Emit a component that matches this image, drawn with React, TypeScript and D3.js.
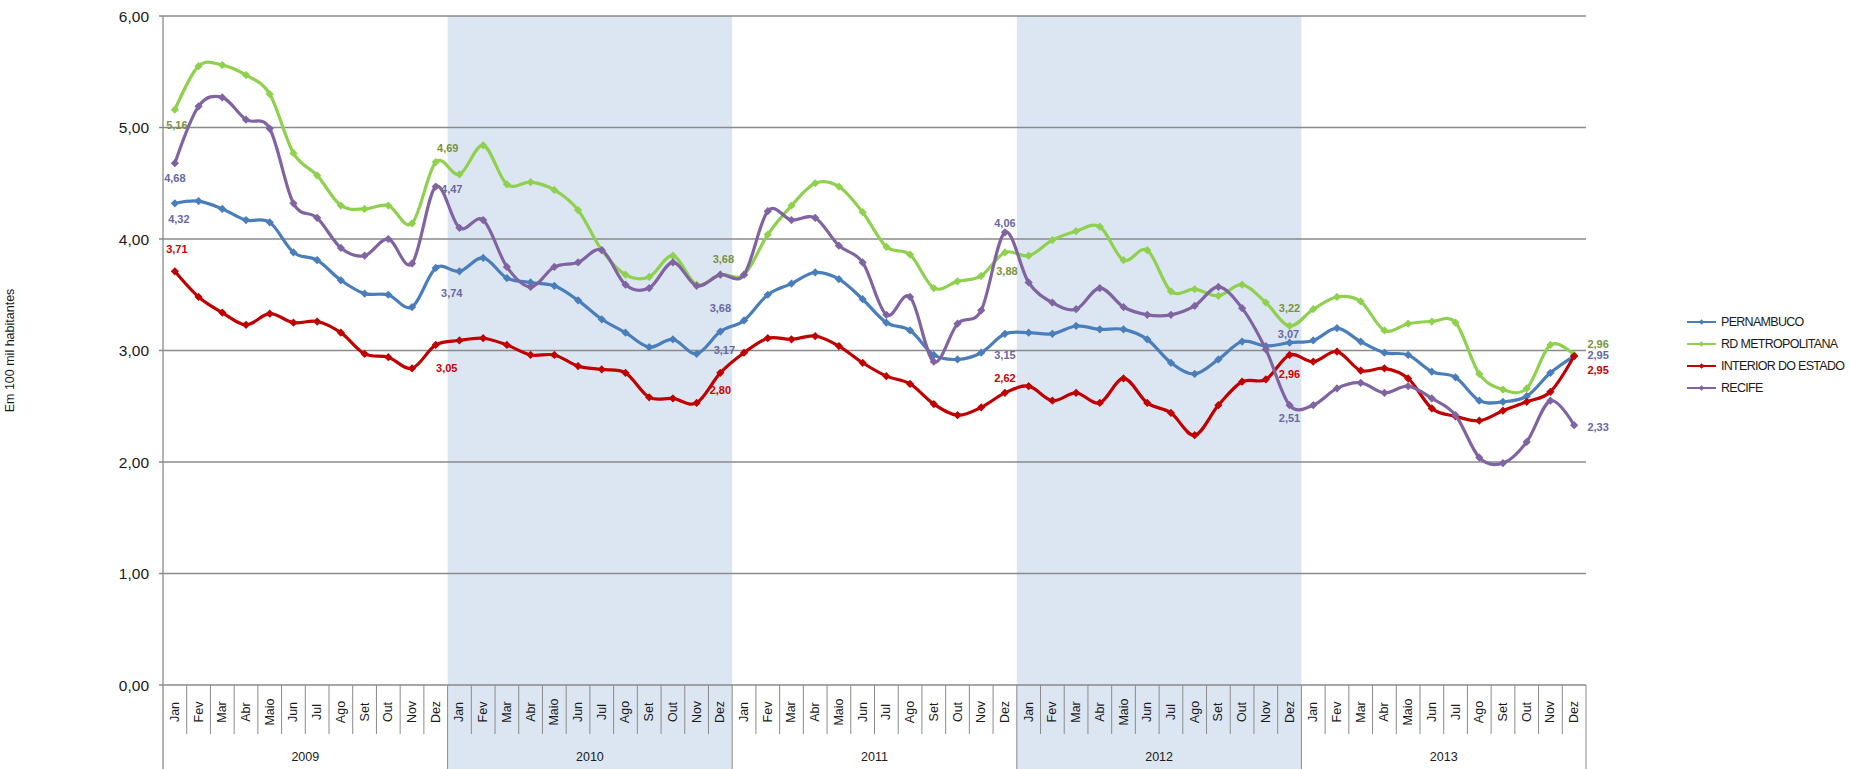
import React, { useEffect, useRef } from 'react';
import * as d3 from 'd3';

// meses / anos do eixo X
const months = ['Jan', 'Fev', 'Mar', 'Abr', 'Maio', 'Jun', 'Jul', 'Ago', 'Set', 'Out', 'Nov', 'Dez'];
const years = ['2009', '2010', '2011', '2012', '2013'];
const shadedYears = ['2010', '2012'];
const yTicks = [0, 1, 2, 3, 4, 5, 6];

// valores por 100 mil habitantes
const pernambuco = [
  4.32, 4.34, 4.27, 4.17, 4.15, 3.88, 3.81, 3.63, 3.51, 3.50, 3.39, 3.74,
  3.71, 3.83, 3.65, 3.61, 3.58, 3.45, 3.28, 3.16, 3.03, 3.10, 2.97, 3.17,
  3.27, 3.50, 3.60, 3.70, 3.64, 3.46, 3.25, 3.18, 2.96, 2.92, 2.98, 3.15,
  3.16, 3.15, 3.22, 3.19, 3.19, 3.10, 2.89, 2.79, 2.92, 3.08, 3.04, 3.07,
  3.09, 3.20, 3.08, 2.98, 2.96, 2.81, 2.76, 2.55, 2.54, 2.59, 2.80, 2.95,
];
const rdMetropolitana = [
  5.16, 5.55, 5.56, 5.47, 5.30, 4.77, 4.57, 4.30, 4.27, 4.30, 4.14, 4.69,
  4.58, 4.84, 4.49, 4.51, 4.44, 4.26, 3.90, 3.68, 3.66, 3.85, 3.59, 3.68,
  3.68, 4.04, 4.30, 4.50, 4.47, 4.24, 3.93, 3.86, 3.56, 3.62, 3.67, 3.88,
  3.85, 3.99, 4.07, 4.11, 3.81, 3.90, 3.53, 3.55, 3.49, 3.59, 3.43, 3.22,
  3.37, 3.48, 3.44, 3.18, 3.24, 3.26, 3.25, 2.79, 2.65, 2.66, 3.05, 2.96,
];
const interiorDoEstado = [
  3.71, 3.48, 3.34, 3.23, 3.33, 3.25, 3.26, 3.16, 2.97, 2.94, 2.84, 3.05,
  3.09, 3.11, 3.05, 2.96, 2.96, 2.86, 2.83, 2.80, 2.58, 2.57, 2.53, 2.80,
  2.98, 3.11, 3.10, 3.13, 3.04, 2.89, 2.77, 2.70, 2.52, 2.42, 2.49, 2.62,
  2.68, 2.55, 2.62, 2.53, 2.75, 2.53, 2.44, 2.24, 2.51, 2.72, 2.74, 2.96,
  2.90, 2.99, 2.82, 2.84, 2.75, 2.48, 2.41, 2.37, 2.46, 2.54, 2.63, 2.95,
];
const recife = [
  4.68, 5.19, 5.27, 5.07, 4.99, 4.32, 4.19, 3.92, 3.85, 4.00, 3.78, 4.47,
  4.10, 4.17, 3.75, 3.57, 3.75, 3.79, 3.90, 3.59, 3.56, 3.79, 3.58, 3.68,
  3.68, 4.25, 4.17, 4.19, 3.94, 3.79, 3.32, 3.48, 2.90, 3.24, 3.36, 4.06,
  3.61, 3.43, 3.37, 3.56, 3.39, 3.32, 3.32, 3.40, 3.57, 3.38, 3.01, 2.51,
  2.51, 2.66, 2.71, 2.62, 2.68, 2.57, 2.42, 2.04, 1.99, 2.18, 2.55, 2.33,
];

// meses que recebem rótulo
const labelMonths = [0, 11, 23, 35, 47, 59];

const series = [
  { name: 'PERNAMBUCO', values: pernambuco, color: '#4a7ebb', labelColor: '#6868a4',
    offsets: [[4, 16], [16, 25], [4, 18], [0, 21], [-1, -9], [24, -1]] },
  { name: 'RD METROPOLITANA', values: rdMetropolitana, color: '#8fd14f', labelColor: '#77933c',
    offsets: [[2, 15], [12, -14], [3, -16], [2, 19], [0, -18], [24, -11]] },
  { name: 'INTERIOR DO ESTADO', values: interiorDoEstado, color: '#c00000', labelColor: '#cc0000',
    offsets: [[2, -22], [11, 23], [0, 17], [0, -15], [0, 19], [24, 14]] },
  { name: 'RECIFE', values: recife, color: '#8064a2', labelColor: '#6868a4',
    offsets: [[0, 15], [16, 2], [0, 33], [0, -9], [0, 13], [24, 2]] },
];

const width = 1850;
const height = 769;
const margin = { top: 16, left: 163, right: 264, bottom: 84 };
const font = '"Liberation Sans", Arial, sans-serif';

const App = () => {
  const svgRef = useRef(null);

  useEffect(() => {
    const svg = d3.select(svgRef.current);
    svg.selectAll('*').remove();

    const labels = years.flatMap(y => months.map(m => `${m}-${y}`));
    const x = d3.scaleBand().domain(labels).range([margin.left, width - margin.right]).padding(0);
    const cx = i => x(labels[i]) + x.bandwidth() / 2;
    const y = d3.scaleLinear().domain([0, 6]).range([height - margin.bottom, margin.top]);
    const y0 = y(0);
    const fmt = v => d3.format('.2f')(v).replace('.', ',');

    // faixas de 2010 e 2012
    shadedYears.forEach(yr => {
      const start = x(`Jan-${yr}`);
      const end = x(`Dez-${yr}`) + x.bandwidth();
      svg.append('rect')
        .attr('x', start).attr('y', margin.top)
        .attr('width', end - start).attr('height', height - margin.top)
        .attr('fill', '#dce6f2');
    });

    // grade
    svg.selectAll('.grid')
      .data(yTicks)
      .join('line')
      .attr('x1', margin.left - 4).attr('x2', width - margin.right)
      .attr('y1', d => y(d)).attr('y2', d => y(d))
      .attr('stroke', '#8a8a8a').attr('stroke-width', 1.3);

    svg.selectAll('.ytick')
      .data(yTicks)
      .join('text')
      .attr('x', margin.left - 14)
      .attr('y', d => y(d))
      .attr('text-anchor', 'end')
      .attr('dominant-baseline', 'central')
      .attr('font-family', font).attr('font-size', 15.5).attr('fill', '#1a1a1a')
      .text(d => fmt(d));

    // eixo Y
    svg.append('line')
      .attr('x1', margin.left).attr('x2', margin.left)
      .attr('y1', margin.top).attr('y2', height)
      .attr('stroke', '#8a8a8a').attr('stroke-width', 1.3);

    svg.append('text')
      .attr('transform', `translate(10, ${(margin.top + y0) / 2}) rotate(-90)`)
      .attr('text-anchor', 'middle').attr('dominant-baseline', 'central')
      .attr('font-family', font).attr('font-size', 12.5).attr('fill', '#1a1a1a')
      .text('Em 100 mil habitantes');

    // eixo X: separadores de meses e anos
    d3.range(1, labels.length).forEach(i => {
      const xx = x(labels[i]);
      const isYear = i % 12 === 0;
      svg.append('line')
        .attr('x1', xx).attr('x2', xx)
        .attr('y1', y0).attr('y2', isYear ? height : y0 + 49)
        .attr('stroke', '#8a8a8a').attr('stroke-width', 1);
    });
    svg.append('line')
      .attr('x1', width - margin.right).attr('x2', width - margin.right)
      .attr('y1', y0).attr('y2', height)
      .attr('stroke', '#8a8a8a').attr('stroke-width', 1);

    svg.selectAll('.month')
      .data(labels)
      .join('text')
      .attr('transform', (d, i) => `translate(${cx(i)}, ${y0 + 27}) rotate(-90)`)
      .attr('text-anchor', 'middle').attr('dominant-baseline', 'central')
      .attr('font-family', font).attr('font-size', 12.5).attr('fill', '#1a1a1a')
      .text(d => d.split('-')[0]);

    svg.selectAll('.year')
      .data(years)
      .join('text')
      .attr('x', d => (x(`Jan-${d}`) + x(`Dez-${d}`) + x.bandwidth()) / 2)
      .attr('y', height - 12)
      .attr('text-anchor', 'middle').attr('dominant-baseline', 'central')
      .attr('font-family', font).attr('font-size', 12.5).attr('fill', '#1a1a1a')
      .text(d => d);

    // linhas suavizadas
    const line = d3.line()
      .x((d, i) => cx(i))
      .y(d => y(d))
      .curve(d3.curveCardinal.tension(0));

    const diamond = d3.symbol(d3.symbolSquare, 34)();

    series.forEach(s => {
      svg.append('path')
        .attr('d', line(s.values))
        .attr('fill', 'none')
        .attr('stroke', s.color).attr('stroke-width', 3.2)
        .attr('stroke-linejoin', 'round');

      svg.append('g').selectAll('path')
        .data(s.values)
        .join('path')
        .attr('d', diamond)
        .attr('transform', (d, i) => `translate(${cx(i)}, ${y(d)}) rotate(45)`)
        .attr('fill', s.color);
    });

    // rótulos de dados
    series.forEach(s => {
      labelMonths.forEach((m, k) => {
        const [dx, dy] = s.offsets[k];
        svg.append('text')
          .attr('x', cx(m) + dx).attr('y', y(s.values[m]) + dy)
          .attr('text-anchor', 'middle').attr('dominant-baseline', 'central')
          .attr('font-family', font).attr('font-size', 11).attr('font-weight', 'bold')
          .attr('fill', s.labelColor)
          .text(fmt(s.values[m]));
      });
    });

    // legenda
    const legend = svg.append('g').attr('transform', 'translate(1687, 322)');
    series.forEach((s, i) => {
      const g = legend.append('g').attr('transform', `translate(0, ${i * 22})`);
      g.append('line').attr('x1', 0).attr('x2', 29).attr('y1', 0).attr('y2', 0)
        .attr('stroke', s.color).attr('stroke-width', 2);
      g.append('path').attr('d', d3.symbol(d3.symbolSquare, 16)())
        .attr('transform', 'translate(14.5, 0) rotate(45)').attr('fill', s.color);
      g.append('text').attr('x', 34).attr('y', 0)
        .attr('dominant-baseline', 'central')
        .attr('font-family', font).attr('font-size', 12.5)
        .attr('letter-spacing', -0.7).attr('fill', '#1a1a1a')
        .text(s.name);
    });
  }, []);

  return (
    <svg
      ref={svgRef}
      width={width}
      height={height}
      style={{ position: 'absolute', left: 0, top: 0, background: '#fff' }}
    />
  );
};

export default App;
